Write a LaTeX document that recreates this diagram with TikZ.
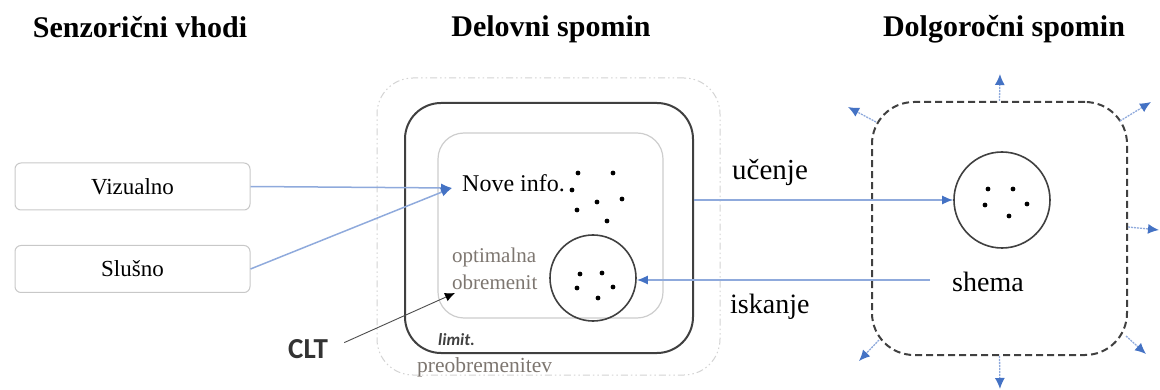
\documentclass[tikz,border=0pt]{standalone}
\usepackage{fontspec}
\setmainfont{Liberation Serif}
\newfontfamily\carlito{Carlito}
\usetikzlibrary{arrows.meta}
\definecolor{lineblue}{RGB}{143,170,220}
\definecolor{headblue}{RGB}{68,114,196}
\definecolor{boxgray}{RGB}{64,64,64}
\definecolor{softgray}{RGB}{200,200,200}
\definecolor{labgray}{RGB}{125,118,112}
\tikzset{
  head/.style={font=\bfseries\fontsize{30}{34}\selectfont, anchor=base},
  inbox/.style={draw=softgray, line width=1pt, rounded corners=6pt, minimum width=235pt, minimum height=47pt, inner sep=0pt, font=\fontsize{23}{27}\selectfont},
  wmouter/.style={draw=softgray!80, line width=1pt, rounded corners=36pt, dash pattern=on 7pt off 3pt on 1.5pt off 3pt on 1.5pt off 3pt, minimum width=343pt, minimum height=297pt, inner sep=0pt},
  wmbox/.style={draw=boxgray, line width=2pt, rounded corners=36pt, minimum width=288pt, minimum height=250pt, inner sep=0pt},
  wminner/.style={draw=softgray!90, line width=1.2pt, rounded corners=26pt, minimum width=225pt, minimum height=185pt, inner sep=0pt},
  ltmbox/.style={draw=boxgray, line width=2pt, rounded corners=42pt, dash pattern=on 7pt off 4pt, minimum width=255pt, minimum height=253pt, inner sep=0pt},
  circ/.style={draw=boxgray, line width=1.6pt, circle, inner sep=0pt},
  lbl/.style={anchor=base, inner sep=0pt},
  bluearrow/.style={draw=lineblue, line width=1.5pt, -{Latex[length=11pt,width=9pt,color=headblue]}},
  radarrow/.style={draw=lineblue, line width=1.3pt, dash pattern=on 2pt off 1pt, -{Latex[length=11pt,width=10pt,color=headblue]}},
  dot/.style={fill=black},
}
\begin{document}
\begin{tikzpicture}[x=1pt,y=-1pt]
\useasboundingbox (0,0) rectangle (1160,390);
% headings
\node[head] (h1) at (140,38) {Senzorični vhodi};
\node[head] (h2) at (551,37) {Delovni spomin};
\node[head] (h3) at (1004,37) {Dolgoročni spomin};
% sensory inputs
\node[inbox] (viz) at (132.5,186.5) {Vizualno};
\node[inbox] (slu) at (132.5,269) {Slušno};
% working memory
\node[wmouter] (wmo) at (548.5,226.5) {};
\node[wmbox] (wm) at (549,228) {};
\node[wminner] (wmi) at (550.5,225.5) {};
\node[lbl, anchor=base west, font=\fontsize{24}{28}\selectfont] (nove) at (462,192) {Nove info.};
\coordinate (novein) at (452,188);
\node[circ, minimum size=86pt] (wmc) at (593,278) {};
\node[lbl, anchor=base west, text=labgray, font=\fontsize{21}{25}\selectfont] (opt) at (452,263) {optimalna};
\node[lbl, anchor=base west, text=labgray, font=\fontsize{21}{25}\selectfont] (obr) at (452,290) {obremenit};
\node[lbl, anchor=base west, text=boxgray, font=\carlito\bfseries\itshape\fontsize{17}{20}\selectfont] (lim) at (438,345) {limit.};
\node[lbl, anchor=base west, text=labgray, font=\fontsize{21.5}{25}\selectfont] (pre) at (417,372) {preobremenitev};
\node[lbl, anchor=base west, text=black!80, font=\carlito\bfseries\fontsize{29}{33}\selectfont] (clt) at (288,358) {CLT};
\coordinate (cltend) at (455,293);
% dots in working memory
\foreach \p in {(578,173),(613,173),(572,190),(597,202),(622,199),(577,210),(607,221)}
  \fill[dot] \p circle (2.4pt);
\foreach \p in {(580,274),(602,273),(577,288),(613,287),(598,298)}
  \fill[dot] \p circle (2.4pt);
% long-term memory
\node[ltmbox] (ltm) at (999.5,228.5) {};
\node[circ, minimum size=96pt] (ltmc) at (1002,200) {};
\foreach \p in {(988,189),(1013,189),(985,205),(1027,204),(1009,216)}
  \fill[dot] \p circle (2.4pt);
\node[lbl, font=\fontsize{28}{32}\selectfont] (shema) at (988,291) {shema};
\coordinate (retr) at (930,280);
\node[lbl, anchor=base west, font=\fontsize{29}{33}\selectfont] (uc) at (732,180) {učenje};
\node[lbl, anchor=base west, font=\fontsize{28}{32}\selectfont] (isk) at (730,313) {iskanje};
% connectors
\draw[bluearrow] (viz.east) -- (novein);
\draw[bluearrow] (slu.east) -- (novein);
\draw[bluearrow] (wm.east |- ltmc.west) -- (ltmc.west);
\draw[bluearrow] (retr) -- (retr -| wmc.east);
\draw[draw=black!70, line width=0.9pt, -{Latex[length=10pt,width=9pt,color=black]}] (clt.east) ++(16,-6) -- (cltend);
% radiating arrows
\coordinate (t1) at (1000,74);
\coordinate (t2) at (1151,102);
\coordinate (t3) at (1159,230);
\coordinate (t4) at (1146,354);
\coordinate (t5) at (1000,389);
\coordinate (t6) at (859,361);
\coordinate (t7) at (848,107);
\draw[radarrow] (ltm.north) -- (t1);
\draw[radarrow] ([shift={(-8,20)}]ltm.north east) -- (t2);
\draw[radarrow] ([yshift=1.5]ltm.east) -- (t3);
\draw[radarrow] ([shift={(-2,-20)}]ltm.south east) -- (t4);
\draw[radarrow] (ltm.south) -- (t5);
\draw[radarrow] ([shift={(8,-16)}]ltm.south west) -- (t6);
\draw[radarrow] ([shift={(5,21)}]ltm.north west) -- (t7);
\end{tikzpicture}
\end{document}
